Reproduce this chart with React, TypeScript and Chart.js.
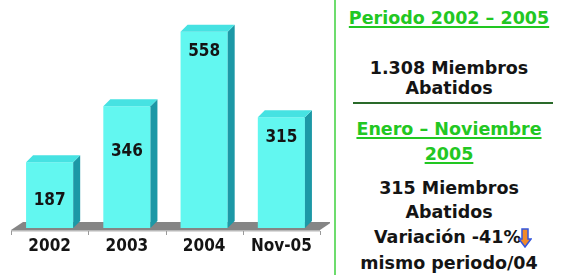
import React, { useEffect, useRef } from "react";
import { Chart, registerables } from "chart.js";
Chart.register(...registerables);

const categories = ["2002", "2003", "2004", "Nov-05"];
const members = [187, 346, 558, 315];
const labelDrop = [38, 45, 20, 20];

const FRONT = "#62f7f0";
const SIDE = "#1c98a6";
const TOP = "#46e2e2";
const COND = "'DejaVu Sans Condensed', 'DejaVu Sans', sans-serif";

const bar3d = {
  id: "bar3d",
  beforeDatasetsDraw(chart: any) {
    const { ctx, chartArea: a } = chart;
    const b = a.bottom;
    ctx.save();
    const fdx = 12, fdy = 8;
    ctx.fillStyle = "#858585";
    ctx.beginPath();
    ctx.moveTo(a.left, b + 2);
    ctx.lineTo(a.right, b + 2);
    ctx.lineTo(a.right + fdx, b + 2 - fdy);
    ctx.lineTo(a.left + fdx, b + 2 - fdy);
    ctx.closePath();
    ctx.fill();
    ctx.fillStyle = "#b8b8b8";
    ctx.fillRect(a.left, b + 2, a.right - a.left, 1.5);
    ctx.strokeStyle = "#9a9a9a";
    ctx.lineWidth = 1;
    for (let i = 0; i <= categories.length; i++) {
      const x = Math.round(a.left + ((a.right - a.left) * i) / categories.length) + 0.5;
      ctx.beginPath();
      ctx.moveTo(x, b + 3);
      ctx.lineTo(x, b + 7);
      ctx.stroke();
    }
    ctx.restore();
  },
  afterDatasetsDraw(chart: any) {
    const { ctx } = chart;
    const meta = chart.getDatasetMeta(0);
    const dx = 7, dy = 7;
    ctx.save();
    meta.data.forEach((el: any, i: number) => {
      const { x, y, base, width } = el.getProps(["x", "y", "base", "width"], true);
      const l = x - width / 2, r = x + width / 2;
      ctx.fillStyle = SIDE;
      ctx.beginPath();
      ctx.moveTo(r, y);
      ctx.lineTo(r + dx, y - dy);
      ctx.lineTo(r + dx, base - dy);
      ctx.lineTo(r, base);
      ctx.closePath();
      ctx.fill();
      ctx.fillStyle = TOP;
      ctx.beginPath();
      ctx.moveTo(l, y);
      ctx.lineTo(l + dx, y - dy);
      ctx.lineTo(r + dx, y - dy);
      ctx.lineTo(r, y);
      ctx.closePath();
      ctx.fill();
      ctx.fillStyle = "#141414";
      ctx.font = "bold 17px " + COND;
      ctx.textAlign = "center";
      ctx.textBaseline = "middle";
      ctx.fillText(String(members[i]), x, y + labelDrop[i]);
    });
    ctx.restore();
  },
};

const GREEN = "#22c722";
const lineStyle = (top: number, color: string, underline: boolean): React.CSSProperties => ({
  position: "absolute",
  left: 336,
  width: 226,
  top: top - 11,
  height: 22,
  lineHeight: "22px",
  textAlign: "center",
  fontFamily: "'DejaVu Sans', sans-serif",
  fontWeight: "bold",
  fontSize: 17.5,
  color,
  whiteSpace: "nowrap",
  textDecoration: underline ? "underline" : "none",
  textDecorationThickness: underline ? "2px" : undefined,
  textUnderlineOffset: underline ? "2px" : undefined,
});

export default function App() {
  const ref = useRef<HTMLCanvasElement>(null);
  useEffect(() => {
    const chart = new Chart(ref.current as HTMLCanvasElement, {
      type: "bar",
      data: {
        labels: categories,
        datasets: [
          {
            data: members,
            backgroundColor: FRONT,
            borderWidth: 0,
            barPercentage: 0.61,
            categoryPercentage: 1,
          },
        ],
      },
      options: {
        responsive: false,
        animation: false,
        layout: { padding: { left: 11, right: 10, top: 17, bottom: 0 } },
        plugins: { legend: { display: false }, tooltip: { enabled: false } },
        scales: {
          x: {
            grid: { display: false, drawTicks: false },
            border: { display: false },
            ticks: {
              color: "#141414",
              padding: 8,
              font: { family: COND, weight: "bold", size: 17 },
            },
            afterFit: (s: any) => {
              s.height = 47;
            },
          },
          y: { display: false, min: 0, max: 600 },
        },
      },
      plugins: [bar3d],
    } as any);
    return () => chart.destroy();
  }, []);

  return (
    <div style={{ position: "fixed", left: 0, top: 0, width: 564, height: 275, background: "#fff", overflow: "hidden" }}>
      <canvas ref={ref} width={330} height={275} style={{ position: "absolute", left: 0, top: 0 }} />
      <div style={{ position: "absolute", left: 334, top: 0, width: 2, height: 275, background: "#6ddc6d" }} />
      <div style={{ position: "absolute", left: 353, top: 102, width: 200, height: 2, background: "#2a6a2a" }} />
      <div style={lineStyle(18, GREEN, true)}>Periodo 2002 – 2005</div>
      <div style={lineStyle(68, "#141414", false)}>1.308 Miembros</div>
      <div style={lineStyle(88, "#141414", false)}>Abatidos</div>
      <div style={lineStyle(129, GREEN, true)}>Enero – Noviembre</div>
      <div style={lineStyle(154, GREEN, true)}>2005</div>
      <div style={lineStyle(188, "#141414", false)}>315 Miembros</div>
      <div style={lineStyle(212, "#141414", false)}>Abatidos</div>
      <div style={{ ...lineStyle(237, "#141414", false), left: 340 }}>
        Variación -41%
        <svg width="14" height="20" viewBox="0 0 14 20" style={{ verticalAlign: "middle", marginLeft: -3 }}>
          <polygon points="4,1 10,1 10,11 13,11 7,19 1,11 4,11" fill="#f08a2a" stroke="#3355dd" strokeWidth="1.5" />
        </svg>
      </div>
      <div style={lineStyle(263, "#141414", false)}>mismo periodo/04</div>
    </div>
  );
}
